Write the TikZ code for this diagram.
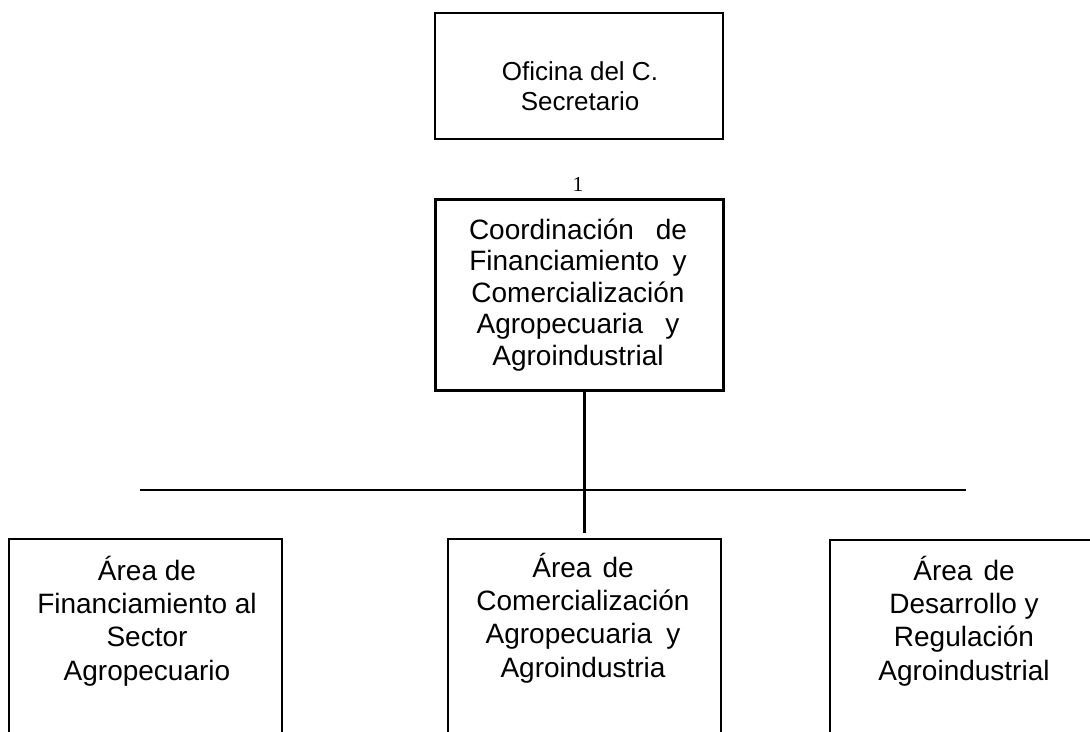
\documentclass[tikz,border=0pt]{standalone}
\usepackage{fontspec}
\setmainfont{Liberation Sans}
\newfontfamily\serifone{Liberation Serif}
\begin{document}
\begin{tikzpicture}[x=0.75pt,y=-0.75pt,
  boxshape/.style={draw=black,rectangle,inner sep=0pt,anchor=north west},
  topbox/.style={boxshape,line width=1.5pt},
  midbox/.style={boxshape,line width=2.1pt},
  lowbox/.style={boxshape,line width=1.5pt},
  toptxt/.style={align=center,inner sep=0pt,anchor=base,font=\fontsize{19.5}{22.5}\selectfont},
  midtxt/.style={align=center,inner sep=0pt,anchor=base,font=\fontsize{21}{23.6}\selectfont},
  lowtxt/.style={align=center,inner sep=0pt,anchor=base,font=\fontsize{21}{24.8}\selectfont},
  link/.style={draw=black,line width=1.7pt}]
\useasboundingbox (0,0) rectangle (1090,732);
\clip (0,0) rectangle (1090,732);
% boxes
\node[topbox,minimum width=216pt,minimum height=94.5pt] (sec) at (434,12) {};
\node[midbox,minimum width=216pt,minimum height=143.25pt] (coord) at (434,198) {};
\node[lowbox,minimum width=204.75pt,minimum height=240pt] (b1) at (8,538) {};
\node[lowbox,minimum width=204.75pt,minimum height=240pt] (b2) at (447,538) {};
\node[lowbox,minimum width=202.5pt,minimum height=240pt] (b3) at (829,539) {};
% texts (base anchor = baseline of the last line)
\node[toptxt] (tsec) at (580,110) {Oficina del C.\\Secretario};
\node[inner sep=0pt,font=\serifone\fontsize{16}{18}\selectfont] (one) at (578,184) {1};
\node[midtxt] (tcoord) at (578,365) {\makebox[163.5pt][s]{Coordinación de}\\\makebox[163pt][s]{Financiamiento y}\\Comercialización\\\makebox[152pt][s]{Agropecuaria y}\\Agroindustrial};
\node[lowtxt] (t1) at (147,680) {Área de\\Financiamiento al\\Sector\\Agropecuario};
\node[lowtxt] (t2) at (583,677) {\makebox[76pt][s]{Área de}\\Comercialización\\\makebox[146pt][s]{Agropecuaria y}\\Agroindustria};
\node[lowtxt] (t3) at (964,680) {\makebox[76pt][s]{Área de}\\Desarrollo y\\Regulación\\Agroindustrial};
% connectors
\coordinate (hl) at (140,490);
\coordinate (hr) at (966,490);
\draw[link] (coord.south -| b2.north) -- ([yshift=3.75pt]b2.north);
\draw[link] (hl) -- (hr);
\end{tikzpicture}
\end{document}
